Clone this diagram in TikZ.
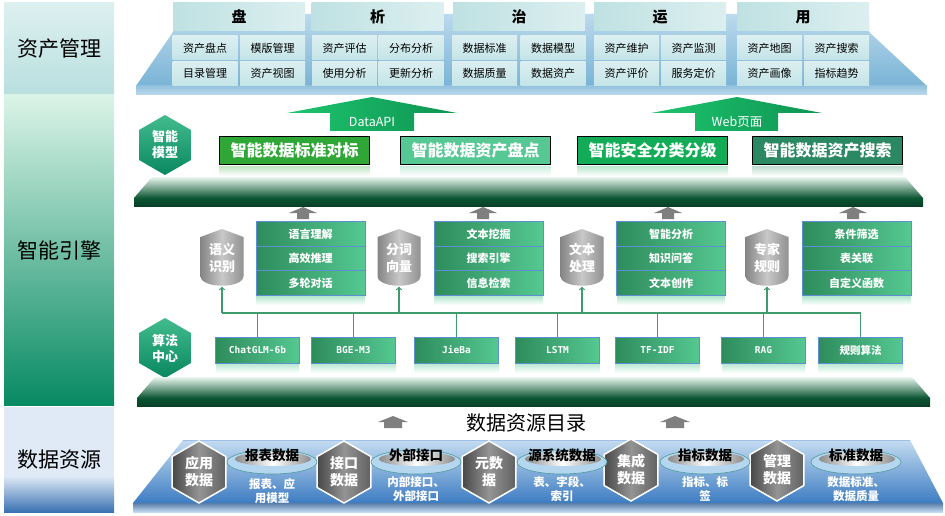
\documentclass[tikz,border=0pt]{standalone}
\usepackage{fontspec}
\setmainfont{Noto Sans CJK SC}
\newfontfamily\algfont{DejaVu Sans Mono}[BoldFont={DejaVu Sans Mono Bold}]
\usepackage{tikz}
\usetikzlibrary{shapes,arrows}
\definecolor{MgtTop}{HTML}{DDF0F0}
\definecolor{MgtBot}{HTML}{B9DFDF}
\definecolor{EngTop}{HTML}{DBF4E8}
\definecolor{EngMid}{HTML}{52C08E}
\definecolor{EngBot}{HTML}{078A62}
\definecolor{ResTop}{HTML}{DFEAF6}
\definecolor{ResBot}{HTML}{3A72B2}
\definecolor{TabCyan}{HTML}{BFE1E2}
\definecolor{TabLight}{HTML}{DCEFF0}
\definecolor{CellCyan}{HTML}{C4E4E7}
\definecolor{CellLight}{HTML}{DCEFF1}
\definecolor{PlatTop}{HTML}{BCDAEC}
\definecolor{PlatBot}{HTML}{79B3D6}
\definecolor{ArrowGreen}{HTML}{1DC46E}
\definecolor{ArrowDark}{HTML}{0E9452}
\definecolor{BoxA}{HTML}{2FA737}
\definecolor{BoxB}{HTML}{56C893}
\definecolor{BoxC}{HTML}{13AC56}
\definecolor{BoxD}{HTML}{2A8862}
\definecolor{SlabTop}{HTML}{EAF7F0}
\definecolor{SlabBot}{HTML}{0B5532}
\definecolor{StackDark}{HTML}{2E8C5C}
\definecolor{StackLight}{HTML}{55C891}
\definecolor{StackLine}{HTML}{5E8FD2}
\definecolor{BusGreen}{HTML}{3E9C6C}
\definecolor{HexTop}{HTML}{42BC8E}
\definecolor{HexBot}{HTML}{0A8760}
\definecolor{RoofDark}{HTML}{858585}
\definecolor{RoofLight}{HTML}{C8C8C8}
\definecolor{UpGray}{HTML}{7F7F7F}
\definecolor{BaseTop}{HTML}{C4DCF1}
\definecolor{BaseMid}{HTML}{A9CAEA}
\definecolor{BaseBot}{HTML}{3D7CC2}
\definecolor{BaseLine}{HTML}{9EC0E6}
\definecolor{DiscBlue}{HTML}{B4D6EE}
\definecolor{DiscEdge}{HTML}{4E9C9C}
\tikzstyle{sidelabel} = [text=black, font=\fontsize{21}{23}\selectfont]
\tikzstyle{tab} = [minimum width=132pt, minimum height=28pt, inner sep=0pt, left color=TabCyan, right color=TabLight, font=\bfseries\fontsize{15}{16}\selectfont]
\tikzstyle{cell} = [minimum width=65pt, minimum height=24pt, inner sep=0pt, top color=CellLight, bottom color=CellCyan, font=\fontsize{11}{12}\selectfont]
\tikzstyle{modelbox} = [draw=black, line width=1.2pt, minimum width=150pt, minimum height=28pt, inner sep=0pt, text=white, font=\bfseries\fontsize{16}{18}\selectfont]
\tikzstyle{stackbox} = [draw=StackLine, line width=0.6pt, left color=StackDark, right color=StackLight, minimum width=109pt, minimum height=24.5pt, inner sep=0pt, text=white, font=\bfseries\fontsize{11}{12}\selectfont]
\tikzstyle{algbox} = [stackbox, minimum width=84pt, minimum height=26pt, font=\algfont\bfseries\fontsize{9.5}{11}\selectfont]
\tikzstyle{greenhex} = [regular polygon, regular polygon sides=6, shape border rotate=30, minimum size=60pt, inner sep=0pt, top color=HexTop, bottom color=HexBot, text=white, align=center, font=\bfseries\fontsize{13}{16}\selectfont]
\tikzstyle{grayhex} = [regular polygon, regular polygon sides=6, shape border rotate=30, minimum size=62pt, inner sep=0pt, draw=white, line width=1.5pt, left color=black!72, right color=black!62, middle color=black!42, text=white, align=center, font=\bfseries\fontsize{14}{17}\selectfont]
\tikzstyle{rooftext} = [minimum width=43pt, minimum height=57pt, inner sep=0pt, text=white, align=center, font=\bfseries\fontsize{13}{17}\selectfont]
\tikzstyle{disc} = [ellipse, minimum width=90pt, minimum height=24pt, inner sep=0pt, fill=DiscBlue, draw=DiscEdge, line width=0.6pt]
\tikzstyle{discin} = [ellipse, minimum width=76pt, minimum height=14pt, inner sep=0pt, left color=black!45, right color=black!45, middle color=white]
\tikzstyle{disclabel} = [text=black, font=\bfseries\fontsize{13.5}{15}\selectfont]
\tikzstyle{discnote} = [text=white, align=center, font=\bfseries\fontsize{11.5}{13.5}\selectfont]
\tikzstyle{bus} = [draw=BusGreen, line width=1.2pt]

\begin{document}
\begin{tikzpicture}[x=1pt,y=-1pt]
\useasboundingbox (0,0) rectangle (945,516);
% left column
\shade[top color=MgtTop, bottom color=MgtBot] (4,3) rectangle (114,95);
\shade[top color=EngTop, middle color=EngMid, bottom color=EngBot] (4,95) rectangle (114,405);
\fill[ResTop] (4,407) rectangle (114,476);
\shade[top color=ResTop, bottom color=ResBot] (4,476) rectangle (114,512);
\node[sidelabel] (guanli) at (59,49) {资产管理};
\node[sidelabel] (yinqing) at (59,250) {智能引擎};
\node[sidelabel] (ziyuan) at (59,460) {数据资源};

% asset management
\shade[top color=PlatTop, bottom color=PlatBot] (136,86) -- (173,32) -- (173,14) -- (869,14) -- (869,32) -- (927,86) -- cycle;
\shade[top color=PlatBot!80, bottom color=PlatTop] (136,86) rectangle (927,95);
\node[tab] (pan) at (239,17) {盘};
\node[tab] (xi) at (377.5,17) {析};
\node[tab] (zhi) at (519,17) {治};
\node[tab] (yun) at (660,17) {运};
\node[tab] (yong) at (803,17) {用};
\node[cell] (pandian) at (205,48) {资产盘点};
\node[cell] (muban) at (272.5,48) {模版管理};
\node[cell] (mulu) at (205,73.5) {目录管理};
\node[cell] (shitu) at (272.5,73.5) {资产视图};
\node[cell] (pinggu) at (344.5,48) {资产评估};
\node[cell] (fenbu) at (411,48) {分布分析};
\node[cell] (shiyong) at (344.5,73.5) {使用分析};
\node[cell] (gengxin) at (411,73.5) {更新分析};
\node[cell] (biaozhun) at (484.5,48) {数据标准};
\node[cell] (moxingc) at (553,48) {数据模型};
\node[cell] (zhiliang) at (484.5,73.5) {数据质量};
\node[cell] (zichan) at (553,73.5) {数据资产};
\node[cell] (weihu) at (626.5,48) {资产维护};
\node[cell] (jiance) at (693.5,48) {资产监测};
\node[cell] (pingjia) at (626.5,73.5) {资产评价};
\node[cell] (dingjia) at (693.5,73.5) {服务定价};
\node[cell] (ditu) at (769.5,48) {资产地图};
\node[cell] (sousuo) at (836.5,48) {资产搜索};
\node[cell] (huaxiang) at (769.5,73.5) {资产画像};
\node[cell] (qushi) at (836.5,73.5) {指标趋势};

% intelligent models
\shade[left color=ArrowGreen, right color=ArrowDark] (330,131) -- (330,113) -- (287,113) -- (372,97) -- (457,113) -- (414,113) -- (414,131) -- cycle;
\shade[left color=ArrowGreen, right color=ArrowDark] (695,131) -- (695,113) -- (651,113) -- (737,97) -- (822,113) -- (778,113) -- (778,131) -- cycle;
\node[text=white, font=\fontsize{12.5}{14}\selectfont] (dataapi) at (372,122) {DataAPI};
\node[text=white, font=\fontsize{12.5}{14}\selectfont] (web) at (737,122) {Web页面};
\node[greenhex] (moxing) at (165,145) {智能\\模型};
\node[modelbox, fill=BoxA] (duibiao) at (294.5,150.5) {智能数据标准对标};
\node[modelbox, fill=BoxB] (pandianm) at (475.5,150.5) {智能数据资产盘点};
\node[modelbox, fill=BoxC] (fenji) at (652.5,150.5) {智能安全分类分级};
\node[modelbox, fill=BoxD] (sousuom) at (827.5,150.5) {智能数据资产搜索};
\shade[top color=BoxA!30, bottom color=white] (219,166) rectangle (370,176);
\shade[top color=BoxB!30, bottom color=white] (400,166) rectangle (551,176);
\shade[top color=BoxC!30, bottom color=white] (577,166) rectangle (728,176);
\shade[top color=BoxD!30, bottom color=white] (752,166) rectangle (903,176);
\shade[top color=SlabTop, bottom color=SlabBot] (152,177) -- (905,177) -- (923,198) -- (134,198) -- cycle;
\shade[top color=SlabBot, bottom color=SlabBot!75!black] (134,198) rectangle (923,206);

% engine capabilities
\fill[UpGray] (297,219) -- (297,213) -- (289,213) -- (303,207) -- (317,213) -- (309,213) -- (309,219) -- cycle;
\fill[UpGray] (477,219) -- (477,213) -- (469,213) -- (483,207) -- (497,213) -- (489,213) -- (489,219) -- cycle;
\fill[UpGray] (662,219) -- (662,213) -- (654,213) -- (668,207) -- (682,213) -- (674,213) -- (674,219) -- cycle;
\fill[UpGray] (847,219) -- (847,213) -- (839,213) -- (853,207) -- (867,213) -- (859,213) -- (859,219) -- cycle;
\node[stackbox] (lijie) at (310.5,234) {语言理解};
\node[stackbox] (tuili) at (310.5,258.5) {高效推理};
\node[stackbox] (duihua) at (310.5,283) {多轮对话};
\node[stackbox] (wajue) at (488.5,234) {文本挖掘};
\node[stackbox] (yinqingb) at (488.5,258.5) {搜索引擎};
\node[stackbox] (jiansuo) at (488.5,283) {信息检索};
\node[stackbox] (fenxi) at (671,234) {智能分析};
\node[stackbox] (wenda) at (671,258.5) {知识问答};
\node[stackbox] (chuangzuo) at (671,283) {文本创作};
\node[stackbox] (shaixuan) at (856.5,234) {条件筛选};
\node[stackbox] (guanlian) at (856.5,258.5) {表关联};
\node[stackbox] (hanshu) at (856.5,283) {自定义函数};
\shade[top color=StackLight!45, bottom color=white] (256,296) rectangle (365,305);
\shade[top color=StackLight!45, bottom color=white] (434,296) rectangle (543,305);
\shade[top color=StackLight!45, bottom color=white] (617,296) rectangle (725,305);
\shade[top color=StackLight!45, bottom color=white] (802,296) rectangle (911,305);
\shade[left color=RoofDark, right color=RoofDark!90, middle color=RoofLight] (200.5,237) -- (222,229) -- (243.5,237) -- (243.5,276) .. controls (243.5,289) and (200.5,289) .. (200.5,276) -- cycle;
\shade[left color=RoofDark, right color=RoofDark!90, middle color=RoofLight] (377.5,237) -- (399,229) -- (420.5,237) -- (420.5,276) .. controls (420.5,289) and (377.5,289) .. (377.5,276) -- cycle;
\shade[left color=RoofDark, right color=RoofDark!90, middle color=RoofLight] (560.5,237) -- (582,229) -- (603.5,237) -- (603.5,276) .. controls (603.5,289) and (560.5,289) .. (560.5,276) -- cycle;
\shade[left color=RoofDark, right color=RoofDark!90, middle color=RoofLight] (745.5,237) -- (767,229) -- (788.5,237) -- (788.5,276) .. controls (788.5,289) and (745.5,289) .. (745.5,276) -- cycle;
\node[rooftext] (yuyi) at (222,258) {语义\\识别};
\node[rooftext] (fenci) at (399,258) {分词\\向量};
\node[rooftext] (wenben) at (582,258) {文本\\处理};
\node[rooftext] (zhuanjia) at (767,258) {专家\\规则};

% algorithm centre
\node[greenhex] (suanfa) at (165,348) {算法\\中心};
\node[algbox] (chatglm) at (257.5,350) {ChatGLM-6b};
\node[algbox] (bge) at (353.5,350) {BGE-M3};
\node[algbox] (jieba) at (456.5,350) {JieBa};
\node[algbox] (lstm) at (557.5,350) {LSTM};
\node[algbox] (tfidf) at (657.5,350) {TF-IDF};
\node[algbox] (rag) at (763.5,350) {RAG};
\node[algbox, font=\bfseries\fontsize{10.5}{12}\selectfont] (guize) at (860.5,350) {规则算法};
\coordinate (busl) at (222,313);
\coordinate (busr) at (860.5,313);
\draw[bus] (busl) -- (busr);
\draw[bus,->] (yuyi.south |- busl) -- (yuyi.south);
\draw[bus,->] (fenci.south |- busl) -- (fenci.south);
\draw[bus,->] (wenben.south |- busl) -- (wenben.south);
\draw[bus,->] (zhuanjia.south |- busl) -- (zhuanjia.south);
\draw[bus] (chatglm.north |- busl) -- (chatglm.north);
\draw[bus] (bge.north |- busl) -- (bge.north);
\draw[bus] (jieba.north |- busl) -- (jieba.north);
\draw[bus] (lstm.north |- busl) -- (lstm.north);
\draw[bus] (tfidf.north |- busl) -- (tfidf.north);
\draw[bus] (rag.north |- busl) -- (rag.north);
\draw[bus] (guize.north |- busl) -- (guize.north);
\shade[top color=StackLight!40, bottom color=white] (216,364) rectangle (299,373);
\shade[top color=StackLight!40, bottom color=white] (311,364) rectangle (396,373);
\shade[top color=StackLight!40, bottom color=white] (414,364) rectangle (499,373);
\shade[top color=StackLight!40, bottom color=white] (515,364) rectangle (600,373);
\shade[top color=StackLight!40, bottom color=white] (615,364) rectangle (700,373);
\shade[top color=StackLight!40, bottom color=white] (722,364) rectangle (805,373);
\shade[top color=StackLight!40, bottom color=white] (818,364) rectangle (903,373);
\shade[top color=SlabTop, bottom color=SlabBot] (155,377) -- (912,377) -- (930,398) -- (137,398) -- cycle;
\shade[top color=SlabBot, bottom color=SlabBot!75!black] (137,398) rectangle (930,406);

% data resources
\node[font=\fontsize{20}{22}\selectfont] (ziyuanmulu) at (526,423) {数据资源目录};
\fill[UpGray] (384,428) -- (384,422) -- (378,422) -- (393,416) -- (408,422) -- (402,422) -- (402,428) -- cycle;
\fill[UpGray] (666,428) -- (666,422) -- (660,422) -- (675,416) -- (690,422) -- (684,422) -- (684,428) -- cycle;
\shade[top color=BaseTop, middle color=BaseMid, bottom color=BaseBot] (183,440) -- (910,440) -- (943,503) -- (133,503) -- cycle;
\draw[BaseLine, line width=0.8pt] (183,440) -- (910,440);
\shade[top color=BaseBot!60!gray, bottom color=BaseTop] (133,503) rectangle (943,512);
\node[grayhex] (yingyong) at (199,472) {应用\\数据};
\node[grayhex] (jiekou) at (344,472) {接口\\数据};
\node[grayhex] (yuan) at (489,472) {元数\\据};
\node[grayhex] (jicheng) at (631,470) {集成\\数据};
\node[grayhex] (guanlid) at (777,470) {管理\\数据};
\node[disc] (baobiaod) at (272,462) {};
\node[disc] (waibud) at (416,462) {};
\node[disc] (yuanxid) at (562,462) {};
\node[disc] (zhibiaod) at (705,462) {};
\node[disc] (biaozhund) at (856,462) {};
\node[discin] at (273,459) {};
\node[discin] at (417,459) {};
\node[discin] at (563,459) {};
\node[discin] at (706,459) {};
\node[discin] at (857,459) {};
\node[disclabel] (baobiao) at (272,455) {报表数据};
\node[disclabel] (waibu) at (416,455) {外部接口};
\node[disclabel] (yuanxi) at (562,455) {源系统数据};
\node[disclabel] (zhibiao) at (705,455) {指标数据};
\node[disclabel] (biaozhunb) at (856,455) {标准数据};
\node[discnote] (baobiaon) at (272,491) {报表、应\\用模型};
\node[discnote] (waibun) at (416,489) {内部接口、\\外部接口};
\node[discnote] (yuanxin) at (562,489) {表、字段、\\索引};
\node[discnote] (zhibiaon) at (705,489) {指标、标\\签};
\node[discnote] (biaozhunn) at (856,489) {数据标准、\\数据质量};
\end{tikzpicture}
\end{document}
